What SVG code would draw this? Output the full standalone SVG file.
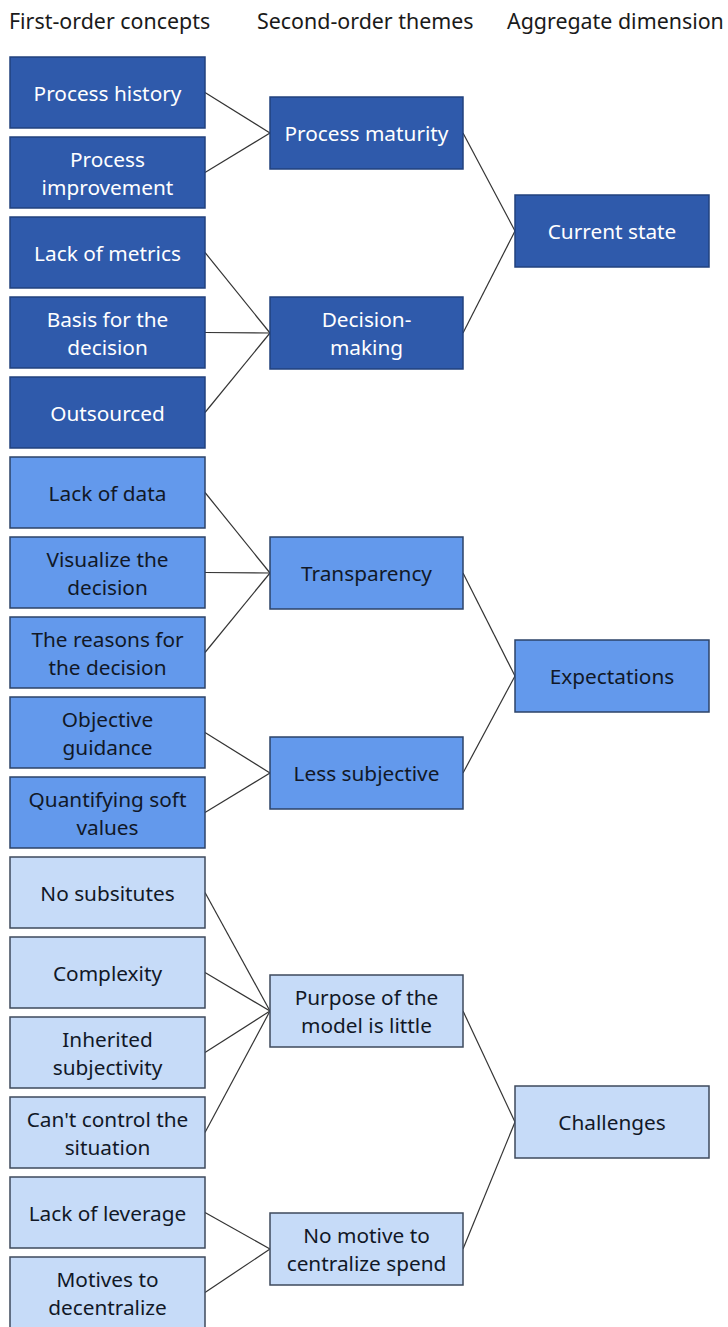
<svg xmlns="http://www.w3.org/2000/svg" width="728" height="1327" viewBox="0 0 728 1327">
  <style>
    text { font-family: "Noto Sans", "Open Sans", "DejaVu Sans", sans-serif; font-size: 20.8px; text-anchor: middle; dominant-baseline: central; }
    .hdr { font-size: 21.4px; text-anchor: start; fill: #1a1a1a; }
    .dark rect { fill: #2F5AAB; stroke: #22427E; stroke-width: 1.5; }
    .dark text { fill: #ffffff; }
    .mid rect { fill: #6399EC; stroke: #2C4368; stroke-width: 1.5; }
    .mid text { fill: #111827; }
    .light rect { fill: #C6DBF8; stroke: #3E4A5C; stroke-width: 1.5; }
    .light text { fill: #111827; }
    #connectors line { stroke: #333333; stroke-width: 1.2; }
  </style>

  <!-- column headings -->
  <g id="headers">
    <text class="hdr" x="9" y="20">First-order concepts</text>
    <text class="hdr" x="257" y="20">Second-order themes</text>
    <text class="hdr" x="507" y="20">Aggregate dimension</text>
  </g>

  <!-- connectors: first-order to second-order, second-order to aggregate -->
  <g id="connectors">
    <line x1="205" y1="92.5" x2="270" y2="133"/>
    <line x1="205" y1="172.5" x2="270" y2="133"/>
    <line x1="205" y1="252.5" x2="270" y2="333"/>
    <line x1="205" y1="332.5" x2="270" y2="333"/>
    <line x1="205" y1="412.5" x2="270" y2="333"/>
    <line x1="205" y1="492.5" x2="270" y2="573"/>
    <line x1="205" y1="572.5" x2="270" y2="573"/>
    <line x1="205" y1="652.5" x2="270" y2="573"/>
    <line x1="205" y1="732.5" x2="270" y2="773"/>
    <line x1="205" y1="812.5" x2="270" y2="773"/>
    <line x1="205" y1="892.5" x2="270" y2="1011"/>
    <line x1="205" y1="972.5" x2="270" y2="1011"/>
    <line x1="205" y1="1052.5" x2="270" y2="1011"/>
    <line x1="205" y1="1132.5" x2="270" y2="1011"/>
    <line x1="205" y1="1212.5" x2="270" y2="1249"/>
    <line x1="205" y1="1292.5" x2="270" y2="1249"/>
    <line x1="463" y1="133" x2="515" y2="231"/>
    <line x1="463" y1="333" x2="515" y2="231"/>
    <line x1="463" y1="573" x2="515" y2="676"/>
    <line x1="463" y1="773" x2="515" y2="676"/>
    <line x1="463" y1="1011" x2="515" y2="1122"/>
    <line x1="463" y1="1249" x2="515" y2="1122"/>
  </g>

  <!-- first-order concepts -->
  <g id="n-process-history" class="dark"><rect x="10" y="57" width="195" height="71"/><text x="107.5" y="92.5">Process history</text></g>
  <g id="n-process-improvement" class="dark"><rect x="10" y="137" width="195" height="71"/><text x="107.5" y="158.5">Process</text><text x="107.5" y="186.5">improvement</text></g>
  <g id="n-lack-of-metrics" class="dark"><rect x="10" y="217" width="195" height="71"/><text x="107.5" y="252.5">Lack of metrics</text></g>
  <g id="n-basis" class="dark"><rect x="10" y="297" width="195" height="71"/><text x="107.5" y="318.5">Basis for the</text><text x="107.5" y="346.5">decision</text></g>
  <g id="n-outsourced" class="dark"><rect x="10" y="377" width="195" height="71"/><text x="107.5" y="412.5">Outsourced</text></g>

  <g id="n-lack-of-data" class="mid"><rect x="10" y="457" width="195" height="71"/><text x="107.5" y="492.5">Lack of data</text></g>
  <g id="n-visualize" class="mid"><rect x="10" y="537" width="195" height="71"/><text x="107.5" y="558.5">Visualize the</text><text x="107.5" y="586.5">decision</text></g>
  <g id="n-reasons" class="mid"><rect x="10" y="617" width="195" height="71"/><text x="107.5" y="638.5">The reasons for</text><text x="107.5" y="666.5">the decision</text></g>
  <g id="n-objective" class="mid"><rect x="10" y="697" width="195" height="71"/><text x="107.5" y="718.5">Objective</text><text x="107.5" y="746.5">guidance</text></g>
  <g id="n-quantifying" class="mid"><rect x="10" y="777" width="195" height="71"/><text x="107.5" y="798.5">Quantifying soft</text><text x="107.5" y="826.5">values</text></g>

  <g id="n-no-substitutes" class="light"><rect x="10" y="857" width="195" height="71"/><text x="107.5" y="892.5">No subsitutes</text></g>
  <g id="n-complexity" class="light"><rect x="10" y="937" width="195" height="71"/><text x="107.5" y="972.5">Complexity</text></g>
  <g id="n-inherited" class="light"><rect x="10" y="1017" width="195" height="71"/><text x="107.5" y="1038.5">Inherited</text><text x="107.5" y="1066.5">subjectivity</text></g>
  <g id="n-cant-control" class="light"><rect x="10" y="1097" width="195" height="71"/><text x="107.5" y="1118.5">Can't control the</text><text x="107.5" y="1146.5">situation</text></g>
  <g id="n-lack-of-leverage" class="light"><rect x="10" y="1177" width="195" height="71"/><text x="107.5" y="1212.5">Lack of leverage</text></g>
  <g id="n-motives" class="light"><rect x="10" y="1257" width="195" height="71"/><text x="107.5" y="1278.5">Motives to</text><text x="107.5" y="1306.5">decentralize</text></g>

  <!-- second-order themes -->
  <g id="n-process-maturity" class="dark"><rect x="270" y="97" width="193" height="72"/><text x="366.5" y="133">Process maturity</text></g>
  <g id="n-decision-making" class="dark"><rect x="270" y="297" width="193" height="72"/><text x="366.5" y="319">Decision-</text><text x="366.5" y="347">making</text></g>
  <g id="n-transparency" class="mid"><rect x="270" y="537" width="193" height="72"/><text x="366.5" y="573">Transparency</text></g>
  <g id="n-less-subjective" class="mid"><rect x="270" y="737" width="193" height="72"/><text x="366.5" y="773">Less subjective</text></g>
  <g id="n-purpose" class="light"><rect x="270" y="975" width="193" height="72"/><text x="366.5" y="997">Purpose of the</text><text x="366.5" y="1025">model is little</text></g>
  <g id="n-no-motive" class="light"><rect x="270" y="1213" width="193" height="72"/><text x="366.5" y="1235">No motive to</text><text x="366.5" y="1263">centralize spend</text></g>

  <!-- aggregate dimensions -->
  <g id="n-current-state" class="dark"><rect x="515" y="195" width="194" height="72"/><text x="612" y="231">Current state</text></g>
  <g id="n-expectations" class="mid"><rect x="515" y="640" width="194" height="72"/><text x="612" y="676">Expectations</text></g>
  <g id="n-challenges" class="light"><rect x="515" y="1086" width="194" height="72"/><text x="612" y="1122">Challenges</text></g>
</svg>
